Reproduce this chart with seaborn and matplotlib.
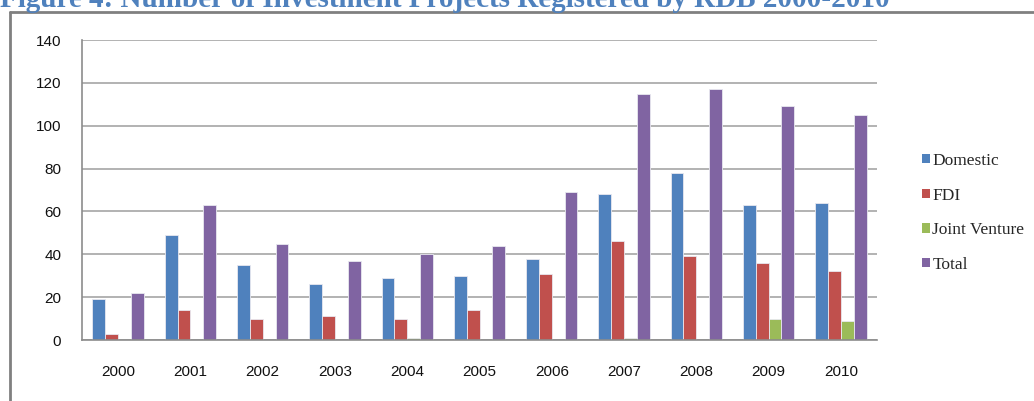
import pandas as pd
import seaborn as sns
import matplotlib.pyplot as plt
import numpy as np
from matplotlib.patches import Patch
from matplotlib.lines import Line2D

# data
years = ['2000', '2001', '2002', '2003', '2004', '2005',
         '2006', '2007', '2008', '2009', '2010']
domestic = [19, 49, 35, 26, 29, 30, 38, 68, 78, 63, 64]
fdi = [3, 14, 10, 11, 10, 14, 31, 46, 39, 36, 32]
joint_venture = [0, 0, 0, 0, 1, 0, 0, 1, 0, 10, 9]
total = [22, 63, 45, 37, 40, 44, 69, 115, 117, 109, 105]

series = ['Domestic', 'FDI', 'Joint Venture', 'Total']
colors = ['#4F81BD', '#C0504D', '#9BBB59', '#8064A2']

# long form table for seaborn
rows = []
for name, vals in zip(series, [domestic, fdi, joint_venture, total]):
    for y, v in zip(years, vals):
        rows.append({'year': y, 'series': name, 'count': v})
data = pd.DataFrame(rows)

sns.set_style("white")
plt.rcParams['font.family'] = ['Liberation Sans', 'DejaVu Sans']

fig = plt.figure(figsize=(10.34, 4.01), dpi=100)
ax = fig.add_axes([82 / 1034, 1 - 340 / 401, 795 / 1034, 300 / 401])

sns.barplot(data=data, x='year', y='count', hue='series', palette=colors,
            saturation=1, width=0.71, edgecolor='#e8e8f0', linewidth=0.6,
            ax=ax, legend=False)

ax.set_ylim(0, 140)
ax.set_xlim(-0.5, len(years) - 0.5)
ax.set_yticks(np.arange(0, 141, 20))
ax.yaxis.grid(True, color='#a6a6a6', linewidth=1.2)
ax.set_axisbelow(True)
ax.set_xlabel('')
ax.set_ylabel('')

# category boundary ticks on x axis
ax.set_xticks(np.arange(-0.5, len(years), 1), minor=True)
ax.tick_params(axis='x', which='major', length=0, pad=18, labelsize=11, labelcolor='#111111')
ax.tick_params(axis='x', which='minor', length=6, width=1.2, color='#8c8c8c', direction='out')
ax.tick_params(axis='y', length=5, width=1.2, color='#8c8c8c', labelsize=11,
               labelcolor='#111111', pad=10, direction='out')

for s in ['top', 'right']:
    ax.spines[s].set_visible(False)
for s in ['left', 'bottom']:
    ax.spines[s].set_color('#8c8c8c')
    ax.spines[s].set_linewidth(1.2)

# legend on the right
handles = [Patch(facecolor=c, edgecolor='none') for c in colors]
fig.legend(handles, series, loc='upper left', bbox_to_anchor=(922 / 1034, 1 - 153 / 401),
           frameon=False, prop={'family': 'Liberation Serif', 'size': 12.5},
           handlelength=0.45, handleheight=0.45, handletextpad=0.15, labelspacing=1.07,
           borderaxespad=0, borderpad=0)

# outer chart frame
fig.add_artist(Line2D([10 / 1034, 10 / 1034], [0, 1 - 12 / 401],
                      transform=fig.transFigure, color='#808080', linewidth=2))
fig.add_artist(Line2D([10 / 1034, 1], [1 - 12 / 401, 1 - 12 / 401],
                      transform=fig.transFigure, color='#808080', linewidth=2))

# title, cut off at the top edge like in the source
fig.text(0.0, 1 - 7 / 401, 'Figure 4: Number of Investment Projects Registered by RDB 2000-2010',
         family='Liberation Serif', fontweight='bold', fontsize=21, color='#4F81BD',
         ha='left', va='baseline')

fig.savefig('out.png', dpi=100)
